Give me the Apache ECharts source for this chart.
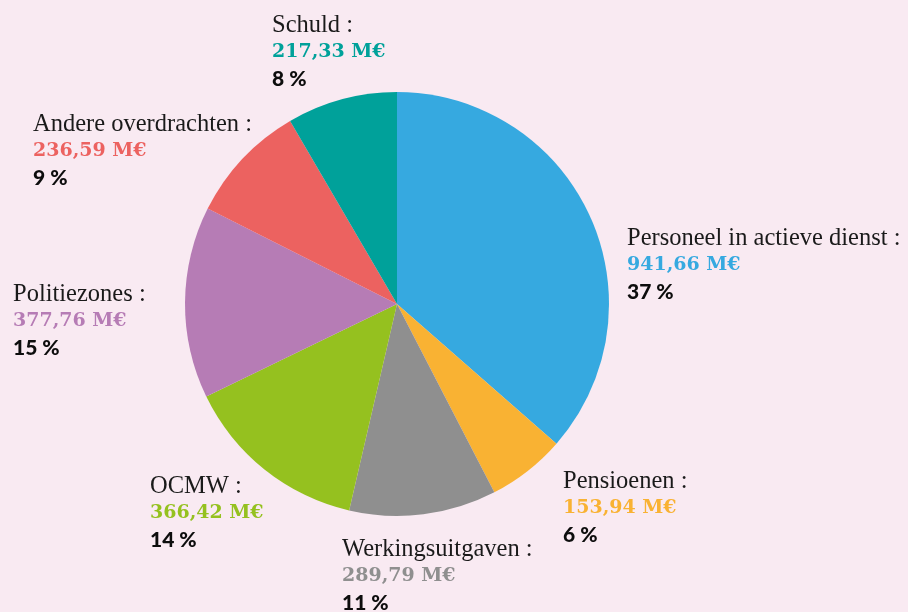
<!DOCTYPE html>
<html>
<head>
<meta charset="utf-8">
<script src="https://cdn.jsdelivr.net/npm/echarts@6/dist/echarts.min.js"></script>
<style>
  html, body { margin: 0; padding: 0; background: #f9eaf2; }
  #chart { width: 908px; height: 612px; }
</style>
</head>
<body>
<div id="chart"></div>
<script>
const categories = ['Personeel in actieve dienst', 'Pensioenen', 'Werkingsuitgaven', 'OCMW', 'Politiezones', 'Andere overdrachten', 'Schuld']
const values = [941.66, 153.94, 289.79, 366.42, 377.76, 236.59, 217.33]
const valueLabels = ['941,66 M€', '153,94 M€', '289,79 M€', '366,42 M€', '377,76 M€', '236,59 M€', '217,33 M€']
const percentLabels = ['37 %', '6 %', '11 %', '14 %', '15 %', '9 %', '8 %']
const colors = ['#36a9e0', '#f9b233', '#8f8f8f', '#95c11f', '#b67cb5', '#ec6260', '#00a19a']

// label anchors (left x, name baseline)
const labelPos = [[627, 246], [563, 489], [342, 557], [150, 494], [13, 302], [33, 132], [272, 33]]

const rich = {
  n: { fontFamily: 'Liberation Serif', fontSize: 24.5, color: '#1a1a1a', lineHeight: 27 },
  p: { fontFamily: 'Lato', fontWeight: 900, fontSize: 21, color: '#0d0d0d', lineHeight: 27 }
}
colors.forEach((c, i) => {
  rich['v' + i] = { fontFamily: 'DejaVu Serif', fontWeight: 900, fontSize: 19, color: c, lineHeight: 27 }
})

const chart = echarts.init(document.getElementById('chart'))
chart.setOption({
  backgroundColor: '#f9eaf2',
  animation: false,
  series: [{
    type: 'pie',
    center: [397, 304],
    radius: 212,
    startAngle: 90,
    clockwise: true,
    color: colors,
    itemStyle: { borderWidth: 0 },
    labelLine: { show: false },
    label: {
      show: true,
      position: 'outside',
      align: 'left',
      overflow: 'none',
      rich: rich,
      formatter: p => '{n|' + p.name + ' :}\n{v' + p.dataIndex + '|' + valueLabels[p.dataIndex] + '}\n{p|' + percentLabels[p.dataIndex] + '}'
    },
    labelLayout: params => {
      const pos = labelPos[params.dataIndex]
      return { x: pos[0], y: pos[1] - 21, align: 'left', verticalAlign: 'top', hideOverlap: false }
    },
    emphasis: { disabled: true },
    data: categories.map((name, i) => ({ name: name, value: values[i] }))
  }]
})
</script>
</body>
</html>
